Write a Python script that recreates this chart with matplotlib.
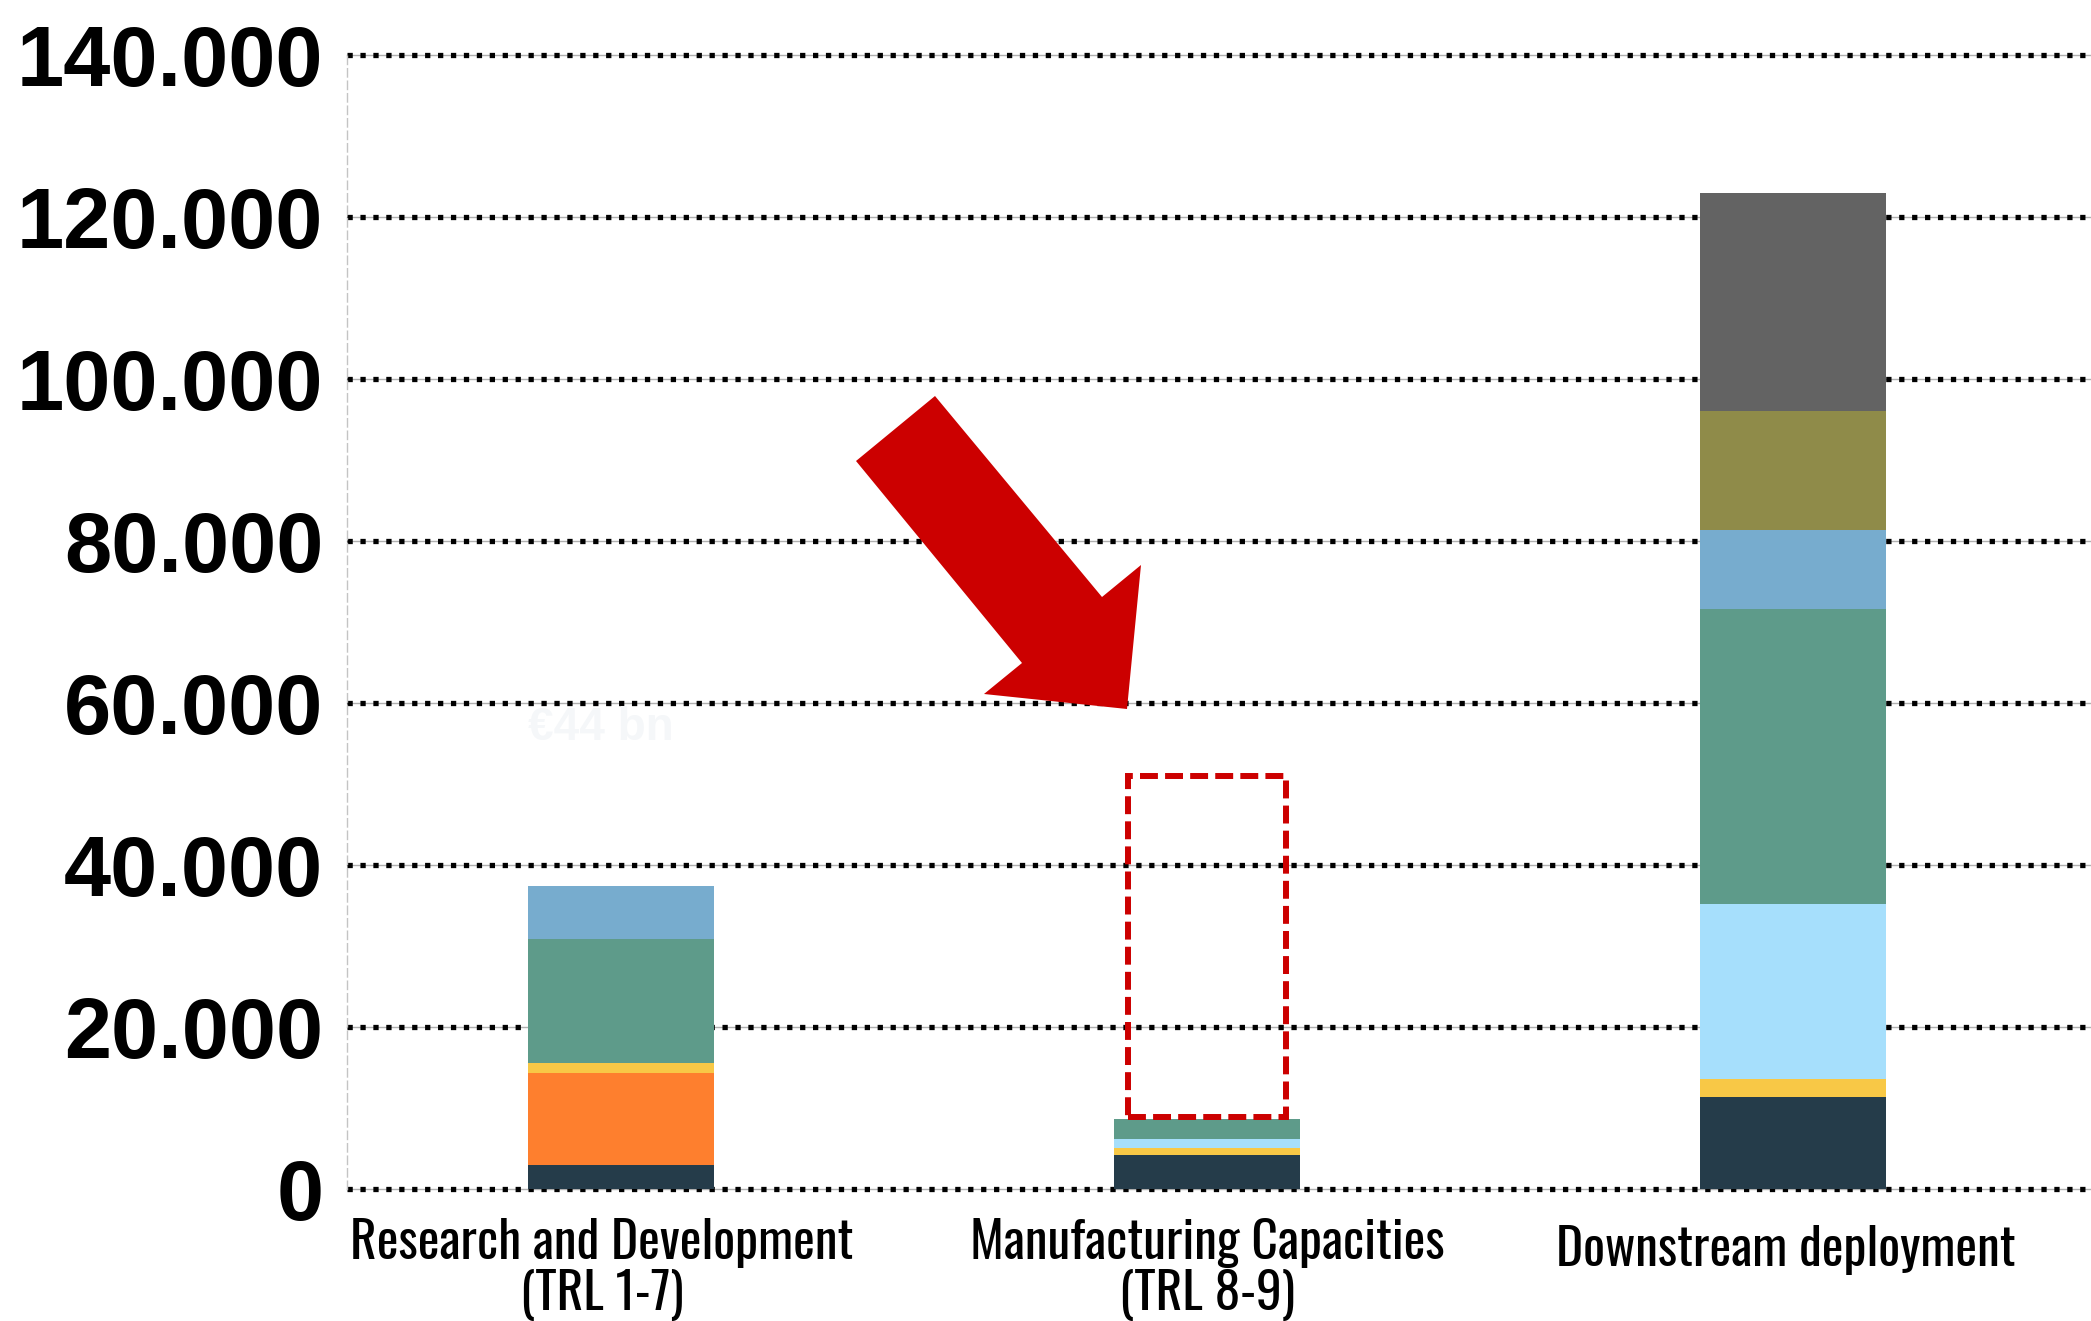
import matplotlib
matplotlib.use("Agg")
import matplotlib.pyplot as plt
from matplotlib import transforms
from matplotlib.patches import Polygon, Rectangle
from matplotlib import font_manager
from matplotlib.font_manager import FontProperties
from matplotlib.textpath import TextPath
import numpy as np

# ---------------- data ----------------
categories = ["Research and Development\n(TRL 1-7)",
              "Manufacturing Capacities\n(TRL 8-9)",
              "Downstream deployment"]
navy = [3000, 4200, 11400]
orange = [11300, 0, 0]
yellow = [1250, 860, 2200]
lightblue = [0, 1110, 21600]
green = [15350, 2470, 36400]
blue = [6500, 0, 9800]
olive = [0, 0, 14600]
gray = [0, 0, 27000]
y_ticks = [0, 20000, 40000, 60000, 80000, 100000, 120000, 140000]
y_tick_labels = ["0", "20.000", "40.000", "60.000", "80.000", "100.000", "120.000", "140.000"]
manufacturing_target = 51000
hidden_label = "€44 bn"

series = [navy, orange, yellow, lightblue, green, blue, olive, gray]
colors = ["#253c4a", "#fe7f2e", "#f8c846", "#a6dffc", "#5e9b8a", "#77acce", "#8f8b49", "#636363"]

# ---------- pick a condensed font for the category labels ----------
label_file = None
oswald = [f for f in font_manager.fontManager.ttflist if f.name.lower().startswith("oswald")
          and f.style == "normal"]
if oswald:
    reg = [f for f in oswald if "regular" in f.fname.lower() or "wght" in f.fname.lower()]
    label_file = (reg or oswald)[0].fname
else:
    bc = [f for f in font_manager.fontManager.ttflist
          if f.fname.endswith("BarlowCondensed-Regular.ttf")]
    if bc:
        label_file = bc[0].fname
label_fp = FontProperties(fname=label_file) if label_file else FontProperties(family="DejaVu Sans")
wid100 = TextPath((0, 0), "Research and Development", size=100, prop=label_fp).get_extents().width
label_size_pt = 100 * 499.0 / wid100 * 0.72

W, H = 2091, 1321
fig = plt.figure(figsize=(W / 100, H / 100), dpi=100)
ax_left_px, ax_top_px, ax_bot_px = 347, 55, 1189
ax = fig.add_axes([ax_left_px / W, (H - ax_bot_px) / H, 1 - ax_left_px / W, (ax_bot_px - ax_top_px) / H])

x = np.arange(len(categories))
ax.set_xlim(-0.4676, 2.5085)
ax.set_ylim(0, 140000)

# gridlines
for yv in y_ticks:
    ax.axhline(yv, color="#b0b0b0", lw=1.0, zorder=0.5, clip_on=False)
    ax.axhline(yv, color="black", lw=3.8, ls=(0, (1, 1.45)), dash_capstyle="butt",
               zorder=0.6, clip_on=False)

# bars
bottom = np.zeros(len(categories))
for vals, c in zip(series, colors):
    v = np.array(vals, dtype=float)
    ax.bar(x, v, width=0.317, bottom=bottom, color=c, zorder=2, linewidth=0)
    bottom += v

# dashed red box over manufacturing
box_bottom = bottom[1] + 250
ax.add_patch(Rectangle((1 - 0.135, box_bottom), 0.27, manufacturing_target - box_bottom,
                       fill=False, edgecolor="#cc0000", lw=4.3, ls=(0, (3, 1.2)), zorder=4))

# spines
for s in ["top", "right", "bottom"]:
    ax.spines[s].set_visible(False)
ax.spines["left"].set_color("#c4c4c4")
ax.spines["left"].set_linewidth(1.0)
ax.spines["left"].set_linestyle((0, (6, 3)))

ax.set_yticks(y_ticks)
ax.set_yticklabels(y_tick_labels, fontsize=61, fontweight="bold", family="Liberation Sans")
ax.tick_params(axis="y", length=0, pad=17)
ax.set_xticks([])

# category labels
label_tops = [1218, 1218, 1225]
label_dx_px = [-19, 0, -7]
for xi, lab, top, dx in zip(x, categories, label_tops, label_dx_px):
    tr = transforms.blended_transform_factory(ax.transData, fig.transFigure) + \
        transforms.ScaledTranslation(dx / 100, 0, fig.dpi_scale_trans)
    ax.text(xi, (H - top) / H, lab, transform=tr, ha="center", va="top",
            fontproperties=label_fp, fontsize=label_size_pt, linespacing=1.02, color="black")

# faint hidden label
fig.text(601 / W, 1 - 728 / H, hidden_label, ha="center", va="center", fontsize=33,
         fontweight="bold", family="Liberation Sans", color="#f5f7f9")

# big red arrow (annotation, figure pixels)
arrow_px = [(935, 396), (856, 461), (1022, 663), (984, 694), (1127, 709), (1141, 565), (1102, 597)]
arrow = Polygon([(px / W, 1 - py / H) for px, py in arrow_px], closed=True,
                transform=fig.transFigure, facecolor="#cc0000", edgecolor="none", zorder=10)
fig.patches.append(arrow)

fig.savefig("out.png", dpi=100)
